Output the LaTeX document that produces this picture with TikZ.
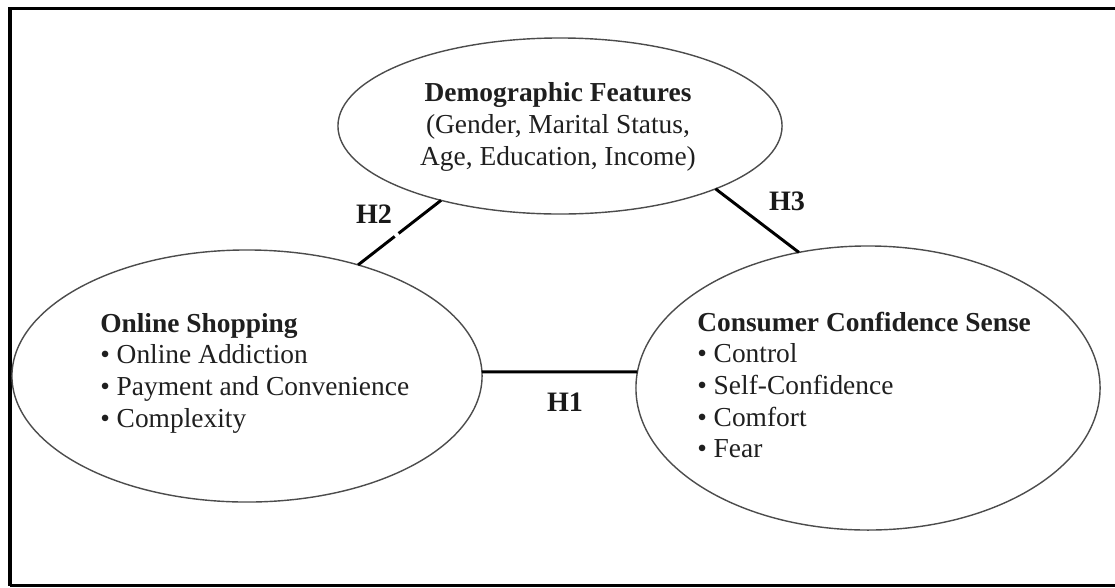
\documentclass[tikz,border=0pt]{standalone}
\usepackage{fontspec}
\setmainfont{Liberation Serif}
\usetikzlibrary{shapes.geometric}
\tikzset{
  blob/.style={ellipse, draw=black!70, line width=1pt, inner sep=0pt, outer sep=0pt},
  txt/.style={font=\fontsize{19.5}{22.5}\selectfont, text=black!88, inner sep=0pt},
  link/.style={draw=black, line width=2.1pt},
  hlabel/.style={font=\fontsize{20}{24}\selectfont\bfseries, text=black!90, inner sep=0pt},
  frameline/.style={draw=black, line width=2.8pt}
}
\begin{document}
\begin{tikzpicture}[x=0.025cm, y=-0.025cm]
\useasboundingbox (0,0) rectangle (1115,587);
% frame (right side lies outside the picture)
\coordinate (ftr) at (1115,8.5);
\coordinate (ftl) at (10,8.5);
\coordinate (fbl) at (10,585.5);
\coordinate (fbr) at (1115,585.5);
\draw[frameline] (ftr) -- (ftl) -- (fbl);
\draw[draw=black, line width=1.8pt] (fbl) -- (fbr);
% ellipses
\node[blob, minimum width=11.1cm, minimum height=4.4cm] (demo) at (560,126) {};
\node[blob, minimum width=11.75cm, minimum height=6.3cm] (shop) at (247,376) {};
\node[blob, minimum width=11.6cm, minimum height=7.1cm] (conf) at (868,388) {};
% texts
\node[txt, align=center] (demotxt) at (558,127) {\textbf{Demographic Features}\\(Gender, Marital Status,\\Age, Education, Income)};
\node[txt, align=left, anchor=west] (shoptxt) at (100,373) {\textbf{Online Shopping}\\• Online Addiction\\• Payment and Convenience\\• Complexity};
\node[txt, align=left, anchor=west] (conftxt) at (697,385) {\textbf{Consumer Confidence Sense}\\• Control\\• Self-Confidence\\• Comfort\\• Fear};
% connectors
\draw[link] (shop.1) -- (conf.176);
\draw[link, dash pattern=on 33pt off 3.5pt on 200pt] (shop.45) -- (demo.212);
\draw[link] (demo.338) -- (conf.117.6);
% labels
\node[hlabel] (h1) at (565,402) {H1};
\node[hlabel] (h2) at (374,214) {H2};
\node[hlabel] (h3) at (787,201) {H3};
\end{tikzpicture}
\end{document}
